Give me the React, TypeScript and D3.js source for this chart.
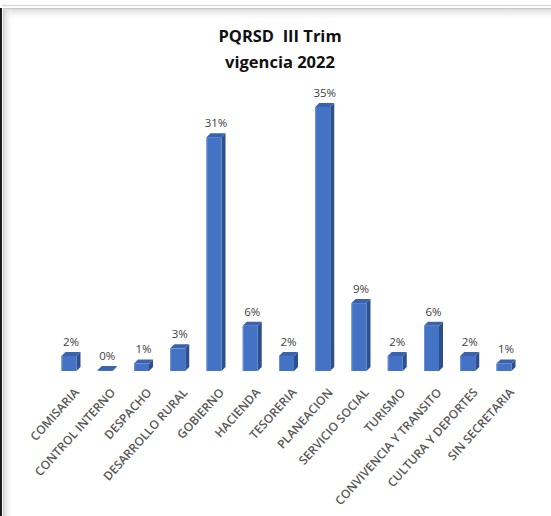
import React from "react";
import * as d3 from "d3";

// PQRSD share by dependency, third quarter 2022 (percent)
const categories = [
  "COMISARIA",
  "CONTROL INTERNO",
  "DESPACHO",
  "DESARROLLO RURAL",
  "GOBIERNO",
  "HACIENDA",
  "TESORERIA",
  "PLANEACION",
  "SERVICIO SOCIAL",
  "TURISMO",
  "CONVIVENCIA Y TRANSITO",
  "CULTURA Y DEPORTES",
  "SIN SECRETARIA",
];
const values = [2, 0, 1, 3, 31, 6, 2, 35, 9, 2, 6, 2, 1];
const titleLines = ["PQRSD  III Trim", "vigencia 2022"];

const W = 551;
const H = 516;
const FONT = "'Open Sans', 'Liberation Sans', sans-serif";

export default function App() {
  const x = d3.scalePoint<string>().domain(categories).range([69, 504]);
  const y = d3.scaleLinear().domain([0, 35]).range([371, 107]);
  const bw = 15;
  const dx = 4;
  const dy = 4;

  return (
    <svg
      width={W}
      height={H}
      viewBox={`0 0 ${W} ${H}`}
      style={{ position: "absolute", left: 0, top: 0, background: "#fff" }}
    >
      <defs>
        <linearGradient id="shTop" x1="0" y1="0" x2="0" y2="1">
          <stop offset="0" stopColor="#d4d4d4" />
          <stop offset="1" stopColor="#ffffff" stopOpacity="0" />
        </linearGradient>
        <linearGradient id="shLeft" x1="0" y1="0" x2="1" y2="0">
          <stop offset="0" stopColor="#d4d4d4" />
          <stop offset="1" stopColor="#ffffff" stopOpacity="0" />
        </linearGradient>
      </defs>

      {/* frame */}
      <rect x={0} y={0} width={W} height={H} fill="#fff" />
      <line x1={2} x2={W} y1={5.5} y2={5.5} stroke="#dcdcdc" strokeWidth={1.5} />
      <rect x={3} y={8} width={W - 3} height={13} fill="url(#shTop)" />
      <rect x={3} y={8} width={11} height={H - 8} fill="url(#shLeft)" />
      <line x1={3.5} x2={3.5} y1={8} y2={H} stroke="#c8c8c8" strokeWidth={1} />
      <line x1={3} x2={W} y1={8.5} y2={8.5} stroke="#c8c8c8" strokeWidth={1} />
      <line x1={1} x2={1} y1={8} y2={H} stroke="#1a1a1a" strokeWidth={2} />

      {/* title */}
      <g fontFamily={FONT} fontWeight={700} fontSize={16.5} fill="#111" textAnchor="middle">
        <text x={280} y={42} style={{ whiteSpace: "pre" }}>
          {titleLines[0]}
        </text>
        <text x={280} y={68}>{titleLines[1]}</text>
      </g>

      {/* 3D bars */}
      {categories.map((c, i) => {
        const cx = x(c) as number;
        const x0 = cx - bw / 2;
        const x1 = cx + bw / 2;
        const y0 = y(0);
        const yt = Math.min(y(values[i]), y0 - 1);
        const top = `M${x0},${yt} L${x0 + dx},${yt - dy} L${x1 + dx},${yt - dy} L${x1},${yt} Z`;
        const side = `M${x1},${yt} L${x1 + dx},${yt - dy} L${x1 + dx},${y0 - dy} L${x1},${y0} Z`;
        return (
          <g key={c}>
            <path d={side} fill="#2c4f8e" />
            <path d={top} fill="#3a62ad" />
            <rect x={x0} y={yt} width={bw} height={y0 - yt} fill="#4472c4" />
            <line x1={x0 + 0.5} x2={x0 + 0.5} y1={yt} y2={y0} stroke="#6a90d6" strokeWidth={1} />
            <text
              x={cx + dx / 2}
              y={yt - dy - 6}
              textAnchor="middle"
              fontFamily={FONT}
              fontSize={11.5}
              fill="#404040"
            >
              {values[i]}%
            </text>
          </g>
        );
      })}

      {/* category labels */}
      {categories.map((c) => {
        const cx = x(c) as number;
        return (
          <text
            key={c}
            transform={`translate(${cx + 3},${386}) rotate(-48)`}
            textAnchor="end"
            dominantBaseline="hanging"
            fontFamily={FONT}
            fontSize={12}
            fontWeight={600}
            fill="#595959"
          >
            {c}
          </text>
        );
      })}
    </svg>
  );
}
